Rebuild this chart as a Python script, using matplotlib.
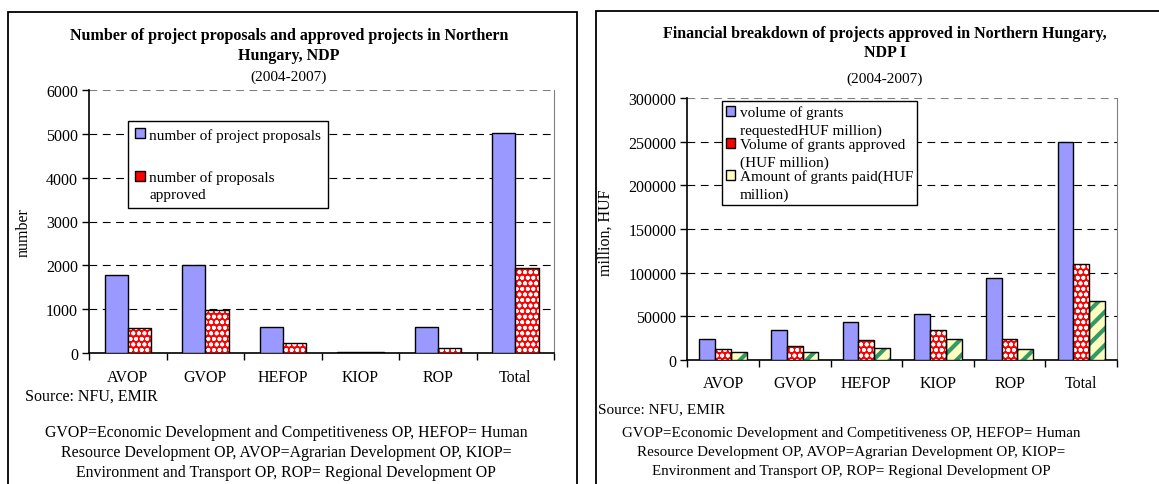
import matplotlib
matplotlib.use('Agg')
import matplotlib.pyplot as plt
from matplotlib.patches import Rectangle, Patch
from matplotlib.legend_handler import HandlerPatch

plt.rcParams['font.family'] = ['Liberation Serif', 'DejaVu Serif']

# data
categories = ['AVOP', 'GVOP', 'HEFOP', 'KIOP', 'ROP', 'Total']
proposals = [1790, 2000, 590, 30, 590, 5015]
approved = [570, 990, 235, 25, 120, 1940]

grants_requested = [23950, 34600, 43700, 52100, 93900, 249100]
grants_approved = [12200, 16400, 22400, 34600, 23950, 109400]
grants_paid = [8750, 8750, 13700, 23950, 12200, 67300]

W, H = 1159, 485
fig = plt.figure(figsize=(W / 100, H / 100), dpi=100)


def fx(x):
    return x / W


def fy(y):
    return 1 - y / H


BLUE = '#9999FF'
RED = '#FF0000'
CREAM = '#FFFFC0'
GREEN = '#339966'


def draw_bars(ax, xs, vals, width, style):
    if style == 'blue':
        ax.bar(xs, vals, width, color=BLUE, edgecolor='black', linewidth=1, zorder=3)
    elif style == 'red':
        with plt.rc_context({'hatch.linewidth': 1.2}):
            ax.bar(xs, vals, width, color=RED, edgecolor='white', hatch='ooo', linewidth=0, zorder=3)
        ax.bar(xs, vals, width, fill=False, edgecolor='black', linewidth=1, zorder=4)
    else:
        with plt.rc_context({'hatch.linewidth': 3.0}):
            ax.bar(xs, vals, width, color=CREAM, edgecolor=GREEN, hatch='//', linewidth=0, zorder=3)
        ax.bar(xs, vals, width, fill=False, edgecolor='black', linewidth=1, zorder=4)


def style_axes(ax, ymax, ystep):
    ax.set_xlim(-0.5, 5.5)
    ax.set_ylim(0, ymax)
    ax.set_yticks(range(0, ymax + 1, ystep))
    ax.set_xticks(range(6))
    ax.set_xticklabels(categories)
    ax.set_xticks([i - 0.5 for i in range(7)], minor=True)
    ax.tick_params(axis='x', which='major', length=0, pad=11, labelsize=11.5)
    ax.tick_params(axis='x', which='minor', length=5, direction='out', width=1)
    ax.tick_params(axis='y', length=5, direction='out', width=1, labelsize=11.5, pad=3)
    ax.yaxis.grid(True, color='black', linestyle=(0, (7, 5)), linewidth=0.8)
    ax.get_ygridlines()[-1].set_color('#808080')
    ax.set_axisbelow(True)
    ax.spines['top'].set_visible(False)
    ax.spines['right'].set_color('#808080')
    ax.spines['left'].set_linewidth(1.2)
    ax.spines['bottom'].set_linewidth(1.2)


# legend square raised to the first line of a two-line label
def top_square(legend, orig_handle, xdescent, ydescent, width, height, fontsize):
    return Rectangle((-xdescent, -ydescent + 6.5), width, height)


raised = HandlerPatch(patch_func=top_square)

# ---- left chart
ax1 = fig.add_axes([fx(89), fy(354.3), fx(554) - fx(89), (354.3 - 90.7) / H])
x = range(len(categories))
draw_bars(ax1, [i - 0.15 for i in x], proposals, 0.3, 'blue')
draw_bars(ax1, [i + 0.15 for i in x], approved, 0.3, 'red')
style_axes(ax1, 6000, 1000)
ax1.set_ylabel('number', fontsize=11.5)
ax1.yaxis.set_label_coords((32 - 89) / 465, (354 - 232) / 263.6)

h1 = [Patch(facecolor=BLUE, edgecolor='black'),
      Patch(facecolor=RED, edgecolor='black')]
leg1 = ax1.legend(h1, ['number of project proposals', 'number of proposals\napproved'],
                  loc='upper left', bbox_to_anchor=(fx(128), fy(122)), bbox_transform=fig.transFigure,
                  fancybox=False, edgecolor='black', framealpha=1, fontsize=11,
                  handlelength=0.65, handleheight=0.65, handletextpad=0.3, labelspacing=1.85,
                  borderpad=0.45, borderaxespad=0, handler_map={h1[1]: raised})
leg1.get_frame().set_linewidth(1)
for t in leg1.get_texts():
    t.set_linespacing(1.45)

# ---- right chart
ax2 = fig.add_axes([fx(687.3), fy(361), fx(1117) - fx(687.3), (361 - 99) / H])
draw_bars(ax2, [i - 0.22 for i in x], grants_requested, 0.22, 'blue')
draw_bars(ax2, list(x), grants_approved, 0.22, 'red')
draw_bars(ax2, [i + 0.22 for i in x], grants_paid, 0.22, 'green')
style_axes(ax2, 300000, 50000)
ax2.set_ylabel('million, HUF', fontsize=11.5)
ax2.yaxis.set_label_coords((613 - 687) / 430, (361 - 233) / 262)

h2 = [Patch(facecolor=BLUE, edgecolor='black'),
      Patch(facecolor=RED, edgecolor='black'),
      Patch(facecolor=CREAM, edgecolor='black')]
leg2 = ax2.legend(h2, ['volume of grants\nrequestedHUF million)',
                       'Volume of grants approved\n(HUF million)',
                       'Amount of grants paid(HUF\nmillion)'],
                  loc='upper left', bbox_to_anchor=(fx(721.7), fy(102)), bbox_transform=fig.transFigure,
                  fancybox=False, edgecolor='black', framealpha=1, fontsize=11,
                  handlelength=0.65, handleheight=0.65, handletextpad=0.3, labelspacing=0.0,
                  borderpad=0.25, borderaxespad=0, handler_map={Patch: raised})
leg2.get_frame().set_linewidth(1)
for t in leg2.get_texts():
    t.set_linespacing(1.45)

# ---- titles
fig.text(fx(289), fy(35.7), 'Number of project proposals and approved projects in Northern',
         ha='center', va='center', fontsize=11.5, fontweight='bold')
fig.text(fx(289), fy(56), 'Hungary, NDP', ha='center', va='center', fontsize=11.5, fontweight='bold')
fig.text(fx(289), fy(77), '(2004-2007)', ha='center', va='center', fontsize=11)

fig.text(fx(885), fy(34), 'Financial breakdown of projects approved in Northern Hungary,',
         ha='center', va='center', fontsize=11.5, fontweight='bold')
fig.text(fx(885), fy(53), 'NDP I', ha='center', va='center', fontsize=11.5, fontweight='bold')
fig.text(fx(885), fy(79), '(2004-2007)', ha='center', va='center', fontsize=11)

# ---- sources and notes
note = ['GVOP=Economic Development and Competitiveness OP, HEFOP= Human',
        'Resource Development OP, AVOP=Agrarian Development OP, KIOP=',
        'Environment and Transport OP, ROP= Regional Development OP']
fig.text(fx(25), fy(396.7), 'Source: NFU, EMIR', ha='left', va='center', fontsize=11.5)
fig.text(fx(598), fy(410), 'Source: NFU, EMIR', ha='left', va='center', fontsize=11)
for i, line in enumerate(note):
    fig.text(fx(286), fy(433 + 20 * i), line, ha='center', va='center', fontsize=11.4)
    fig.text(fx(851), fy(433 + 19.5 * i), line, ha='center', va='center', fontsize=10.8)

# ---- panel frames
fig.add_artist(Rectangle((fx(8), -0.1), fx(577) - fx(8), fy(12.5) + 0.1,
                         transform=fig.transFigure, fill=False, edgecolor='black', linewidth=1.3))
fig.add_artist(Rectangle((fx(596), -0.1), 0.5, fy(12) + 0.1,
                         transform=fig.transFigure, fill=False, edgecolor='black', linewidth=1.3))

fig.savefig('out.png', dpi=100)
